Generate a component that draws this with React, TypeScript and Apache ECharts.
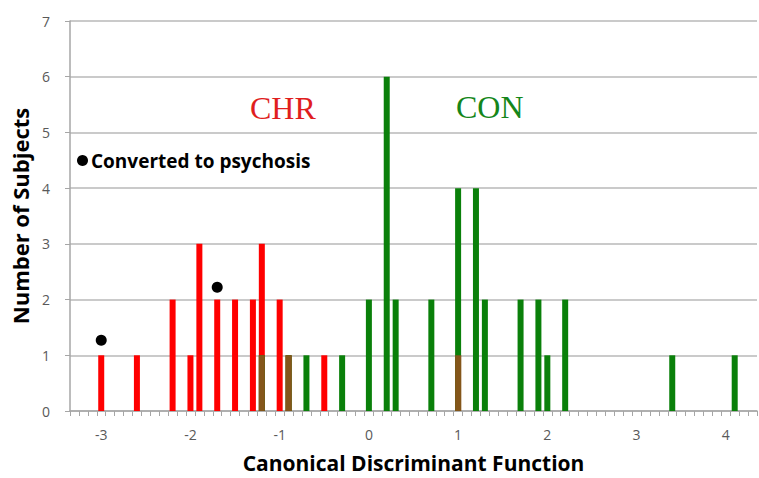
import React, { useEffect, useRef } from "react";
import * as echarts from "echarts";

// Bin centres of the canonical discriminant function (step 0.1)
const binStart = -33; // tenths
const binEnd = 43; // tenths
const categories: string[] = [];
for (let t = binStart; t <= binEnd; t++) categories.push((t / 10).toFixed(1));

// CHR group counts
const chrX = [-3.0, -2.6, -2.2, -2.0, -1.9, -1.7, -1.5, -1.3, -1.2, -1.0, -0.9, -0.5, 1.0];
const chrCount = [1, 1, 2, 1, 3, 2, 2, 2, 3, 2, 1, 1, 1];

// CON group counts
const conX = [-1.2, -0.9, -0.7, -0.3, 0.0, 0.2, 0.3, 0.7, 1.0, 1.2, 1.3, 1.7, 1.9, 2.0, 2.2, 3.4, 4.1];
const conCount = [1, 1, 1, 1, 2, 6, 2, 2, 4, 4, 2, 2, 2, 1, 2, 1, 1];

// Converted to psychosis markers
const convX = [-3.0, -1.7];
const convY = [1.27, 2.22];

const yTicks = [0, 1, 2, 3, 4, 5, 6, 7];

function toSeries(xs: number[], counts: number[]): (number | null)[] {
  const arr: (number | null)[] = categories.map(() => null);
  xs.forEach((x, i) => {
    const idx = categories.indexOf(x.toFixed(1));
    if (idx >= 0) arr[idx] = counts[i];
  });
  return arr;
}

export default function App() {
  const ref = useRef<HTMLDivElement>(null);
  useEffect(() => {
    if (!ref.current) return;
    const chart = echarts.init(ref.current, undefined, { renderer: "svg" });
    const chr = toSeries(chrX, chrCount);
    const con = toSeries(conX, conCount);
    const overlap = chr.map((v, i) => (v != null && con[i] != null ? Math.min(v, con[i] as number) : null));
    const conv = convX.map((x, i) => [x.toFixed(1), convY[i]]);
    const font = "'Open Sans', 'DejaVu Sans', sans-serif";
    const serif = "'Liberation Serif', 'DejaVu Serif', serif";
    chart.setOption({
      animation: false,
      backgroundColor: "#ffffff",
      grid: { left: 70, right: 2, top: 21, bottom: 67, containLabel: false, outerBoundsMode: "none" },
      legend: {
        data: [{ name: "Converted to psychosis", icon: "circle" }],
        left: 72,
        top: 146,
        itemWidth: 11,
        itemHeight: 11,
        itemGap: 4,
        textStyle: { fontFamily: font, fontWeight: "bold", fontSize: 19, color: "#000", padding: [0, 0, 0, -2] },
      },
      xAxis: {
        type: "category",
        data: categories,
        boundaryGap: true,
        name: "Canonical Discriminant Function",
        nameLocation: "middle",
        nameGap: 41,
        nameTextStyle: { fontFamily: font, fontWeight: "bold", fontSize: 21, lineHeight: 21, color: "#000" },
        axisLine: { lineStyle: { color: "#a6a6a6", width: 1.5 } },
        axisTick: { show: true, interval: 0, alignWithLabel: false, length: 5, lineStyle: { color: "#a6a6a6" } },
        axisLabel: {
          interval: (index: number, value: string) => Math.abs(parseFloat(value) - Math.round(parseFloat(value))) < 1e-6,
          formatter: (v: string) => String(Math.round(parseFloat(v))),
          fontFamily: font,
          fontSize: 14,
          color: "#595959",
          margin: 16,
        },
        splitLine: { show: false },
      },
      yAxis: {
        type: "value",
        min: yTicks[0],
        max: yTicks[yTicks.length - 1],
        interval: 1,
        name: "Number of Subjects",
        nameLocation: "middle",
        nameGap: 35,
        nameTextStyle: { fontFamily: font, fontWeight: "bold", fontSize: 22, color: "#000" },
        axisLine: { show: true, lineStyle: { color: "#a6a6a6", width: 1.5 } },
        axisTick: { show: true, length: 5, lineStyle: { color: "#a6a6a6" } },
        axisLabel: { fontFamily: font, fontSize: 14, color: "#595959", margin: 20 },
        splitLine: { lineStyle: { color: "#b8b8b8", width: 1.5 } },
      },
      series: [
        {
          name: "CHR",
          type: "bar",
          data: chr,
          barWidth: 6,
          barGap: "-100%",
          itemStyle: { color: "#ff0000" },
          z: 2,
        },
        {
          name: "CON",
          type: "bar",
          data: con,
          barWidth: 6,
          barGap: "-100%",
          itemStyle: { color: "#0a800a" },
          z: 3,
        },
        {
          name: "Overlap",
          type: "bar",
          data: overlap,
          barWidth: 6,
          barGap: "-100%",
          itemStyle: { color: "#84561a" },
          z: 4,
        },
        {
          name: "Converted to psychosis",
          type: "scatter",
          data: conv,
          symbol: "circle",
          symbolSize: 11,
          itemStyle: { color: "#000000", opacity: 1 },
          z: 5,
        },
      ],
      graphic: [
        {
          type: "text",
          left: 250,
          top: 92,
          style: { text: "CHR", fontFamily: serif, fontSize: 32, fill: "#e01e1e" },
        },
        {
          type: "text",
          left: 456,
          top: 91,
          style: { text: "CON", fontFamily: serif, fontSize: 32, fill: "#14861a" },
        },
      ],
    });
    return () => chart.dispose();
  }, []);
  return <div ref={ref} style={{ width: 759, height: 478, position: "absolute", left: 0, top: 0 }} />;
}
